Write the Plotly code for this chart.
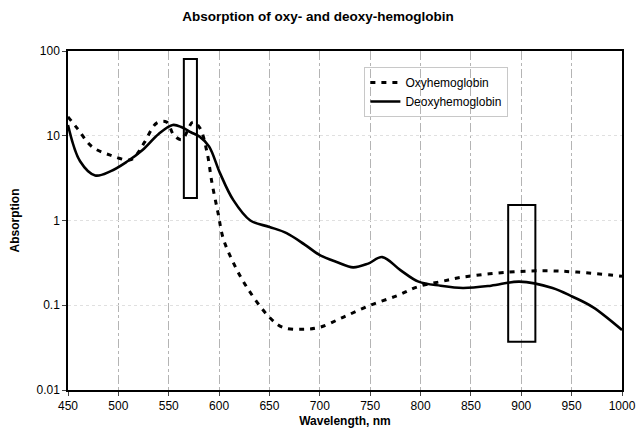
import plotly.graph_objects as go

# Deoxyhemoglobin (solid)
deoxy_wl = [450, 462, 477, 492, 508, 524, 540, 554, 563, 572, 581, 590, 601, 614, 631, 650, 667, 685, 700, 718, 733, 748, 762, 780, 798, 820, 842, 870, 898, 931, 951, 971, 1000]
deoxy_abs = [13.4, 5.0, 3.4, 3.8, 4.9, 6.8, 10.5, 13.4, 12.6, 11.0, 9.7, 7.5, 3.6, 1.75, 1.0, 0.84, 0.71, 0.52, 0.39, 0.32, 0.28, 0.31, 0.37, 0.26, 0.19, 0.17, 0.16, 0.17, 0.19, 0.16, 0.126, 0.095, 0.051]

# Oxyhemoglobin (dashed)
oxy_wl = [450, 459, 474, 492, 512, 519, 526, 538, 548, 555, 563, 574, 581, 588, 593, 599, 604, 614, 628, 650, 663, 683, 700, 723, 750, 777, 797, 820, 842, 888, 925, 955, 1000]
oxy_abs = [16.7, 12.3, 7.4, 5.9, 5.2, 6.2, 8.4, 14.1, 14.5, 10.2, 9.0, 14.5, 12.3, 6.4, 2.75, 1.22, 0.62, 0.32, 0.16, 0.072, 0.055, 0.052, 0.055, 0.072, 0.10, 0.13, 0.165, 0.19, 0.215, 0.246, 0.255, 0.246, 0.22]

# Highlight boxes: [x0, x1, y0, y1]
box_x0 = [565, 887]
box_x1 = [578, 914]
box_y0 = [1.84, 0.037]
box_y1 = [80.5, 1.52]

x_ticks = [450, 500, 550, 600, 650, 700, 750, 800, 850, 900, 950, 1000]
y_ticks = [0.01, 0.1, 1, 10, 100]
y_tick_labels = ["0.01", "0.1", "1", "10", "100"]

fig = go.Figure()
fig.add_trace(go.Scatter(x=oxy_wl, y=oxy_abs, name="Oxyhemoglobin", mode="lines",
                         line=dict(color="black", width=3, dash="5px,6px", shape="spline", smoothing=1.0)))
fig.add_trace(go.Scatter(x=deoxy_wl, y=deoxy_abs, name="Deoxyhemoglobin", mode="lines",
                         line=dict(color="black", width=2.6, shape="spline", smoothing=1.0)))

for x0, x1, y0, y1 in zip(box_x0, box_x1, box_y0, box_y1):
    fig.add_shape(type="rect", xref="x", yref="y", x0=x0, x1=x1, y0=y0, y1=y1,
                  line=dict(color="black", width=2), fillcolor="rgba(0,0,0,0)")

fig.update_layout(
    width=637, height=433,
    margin=dict(l=68, r=15, t=51, b=43, autoexpand=False),
    paper_bgcolor="white", plot_bgcolor="white",
    font=dict(family="Liberation Sans, Arial", size=12, color="black"),
    title=dict(text="<b>Absorption of oxy- and deoxy-hemoglobin</b>", x=318 / 637, xanchor="center",
               y=1 - 16 / 433, yanchor="middle", yref="container", font=dict(size=13.5)),
    showlegend=True,
    legend=dict(x=0.535, y=0.953, xanchor="left", yanchor="top", bgcolor="rgba(255,255,255,0)",
                bordercolor="#c8c8c8", borderwidth=1, font=dict(size=12), itemwidth=30,
                tracegroupgap=0),
)
fig.update_xaxes(range=[450, 1000], tickvals=x_ticks, ticks="outside", ticklen=4,
                 showline=True, linecolor="black", linewidth=1.5, mirror=True, automargin=False,
                 showgrid=True, gridcolor="#b4b4b4", griddash="dashdot", gridwidth=1,
                 title=dict(text="<b>Wavelength, nm</b>", font=dict(size=12), standoff=4),
                 zeroline=False)
fig.update_yaxes(type="log", range=[-2, 2], tickvals=y_ticks, ticktext=y_tick_labels,
                 ticks="outside", ticklen=4, automargin=False,
                 showline=True, linecolor="black", linewidth=1.5, mirror=True,
                 showgrid=True, gridcolor="#e0e0e0", griddash="dot", gridwidth=1,
                 title=dict(text="<b>Absorption</b>", font=dict(size=12), standoff=14),
                 zeroline=False)

# remove the browser's default 8px body margin so the 637x433 figure fills the window exactly
fig.write_html("out.html", config={"displayModeBar": False},
               post_script="document.body.style.margin='0';document.body.style.overflow='hidden';")
